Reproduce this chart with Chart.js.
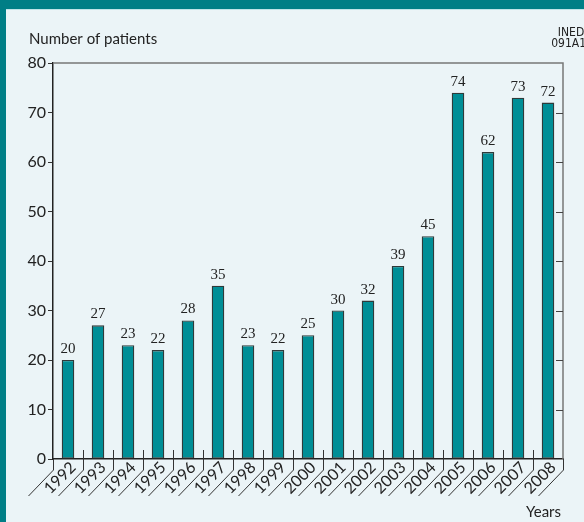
<!DOCTYPE html>
<html>
<head>
<meta charset="utf-8">
<script src="https://cdn.jsdelivr.net/npm/chart.js@4.4.1/dist/chart.umd.min.js"></script>
<style>
html,body{margin:0;padding:0;background:#ebf4f7;}
canvas{display:block;}
</style>
</head>
<body>
<canvas id="c" width="584" height="522"></canvas>
<script>
const years = ["1992","1993","1994","1995","1996","1997","1998","1999","2000","2001","2002","2003","2004","2005","2006","2007","2008"];
const patients = [20,27,23,22,28,35,23,22,25,30,32,39,45,74,62,73,72];
const yTicks = [0,10,20,30,40,50,60,70,80];
const yTitle = "Number of patients";
const xTitle = "Years";
const sourceLines = ["INED","091A11"];

const SANS = "Lato, 'Open Sans', sans-serif";
const SERIF = "'Liberation Serif', 'DejaVu Serif', serif";
const NARROW = "'Liberation Sans Narrow', 'DejaVu Sans Condensed', sans-serif";

const decor = {
  id: 'decor',
  beforeDraw(chart) {
    const ctx = chart.ctx;
    ctx.save();
    ctx.fillStyle = '#ebf4f7';
    ctx.fillRect(0, 0, chart.width, chart.height);
    ctx.fillStyle = '#007e86';
    ctx.fillRect(0, 0, chart.width, 9);
    ctx.fillRect(0, 0, 6, chart.height);
    ctx.fillStyle = '#bfe3e8';
    ctx.fillRect(6, 9, chart.width, 1);
    ctx.restore();
  },
  afterDraw(chart) {
    const ctx = chart.ctx;
    const a = chart.chartArea;
    const xs = chart.scales.x, ys = chart.scales.y;
    ctx.save();
    // frame top & right
    ctx.strokeStyle = '#777';
    ctx.lineWidth = 1.5;
    ctx.beginPath();
    ctx.moveTo(a.left, a.top);
    ctx.lineTo(a.right, a.top);
    ctx.lineTo(a.right, a.bottom);
    ctx.stroke();
    // right inward ticks
    ctx.lineWidth = 1;
    ctx.strokeStyle = '#444';
    yTicks.forEach(v => {
      if (v === 0 || v === 80) return;
      const y = Math.round(ys.getPixelForValue(v)) + 0.5;
      ctx.beginPath();
      ctx.moveTo(a.right - 7, y);
      ctx.lineTo(a.right, y);
      ctx.stroke();
    });
    // separators
    ctx.strokeStyle = '#333';
    ctx.lineWidth = 1;
    const step = xs.getPixelForValue(1) - xs.getPixelForValue(0);
    for (let i = 0; i <= years.length; i++) {
      const x = Math.round(xs.getPixelForValue(i) - step / 2) + 0.5;
      const top = (i === 0 || i === years.length) ? a.bottom : a.bottom - 9;
      ctx.beginPath();
      ctx.moveTo(x, top);
      ctx.lineTo(x, a.bottom + 11);
      ctx.lineTo(x - 25, a.bottom + 37);
      ctx.stroke();
    }
    // x labels
    ctx.fillStyle = '#222';
    ctx.font = '16px ' + SANS;
    ctx.textAlign = 'center';
    ctx.textBaseline = 'middle';
    years.forEach((t, i) => {
      const cx = xs.getPixelForValue(i);
      ctx.save();
      ctx.translate(cx - 8, a.bottom + 19);
      ctx.rotate(-Math.PI / 4);
      ctx.fillText(t, 0, 0);
      ctx.restore();
    });
    // titles
    ctx.textBaseline = 'alphabetic';
    ctx.font = '15px ' + SANS;
    ctx.textAlign = 'left';
    ctx.fillText(yTitle, 29, 44);
    ctx.textAlign = 'right';
    ctx.fillText(xTitle, 561, 517);
    ctx.font = '12px ' + NARROW;
    ctx.textAlign = 'center';
    ctx.fillText(sourceLines[0], 571, 36);
    ctx.fillText(sourceLines[1], 572, 47);
    // data labels
    const meta = chart.getDatasetMeta(0);
    ctx.font = '15px ' + SERIF;
    ctx.fillStyle = '#222';
    meta.data.forEach((bar, i) => {
      ctx.fillText(String(patients[i]), bar.x, bar.y - 7);
    });
    ctx.restore();
  }
};

new Chart(document.getElementById('c'), {
  type: 'bar',
  data: {
    labels: years,
    datasets: [{
      data: patients,
      backgroundColor: '#008e96',
      borderColor: '#2f3a3a',
      borderWidth: 1.3,
      borderSkipped: false,
      categoryPercentage: 1,
      barPercentage: 0.42
    }]
  },
  options: {
    responsive: false,
    animation: false,
    devicePixelRatio: 1,
    layout: { padding: { top: 63, right: 21, left: 0, bottom: 0 } },
    plugins: { legend: { display: false }, tooltip: { enabled: false } },
    scales: {
      x: {
        grid: { display: false },
        ticks: { display: false },
        border: { display: true, color: '#222', width: 1.5 },
        afterFit(s) { s.height = 63; }
      },
      y: {
        min: 0, max: 80,
        afterBuildTicks(s) { s.ticks = yTicks.map(v => ({ value: v })); },
        ticks: { font: { family: SANS, size: 16 }, color: '#222', padding: 2 },
        grid: { drawOnChartArea: false, drawTicks: true, tickLength: 5, color: '#333' },
        border: { display: true, color: '#222', width: 1.5 },
        afterFit(s) { s.width = 53; }
      }
    }
  },
  plugins: [decor]
});
</script>
</body>
</html>
